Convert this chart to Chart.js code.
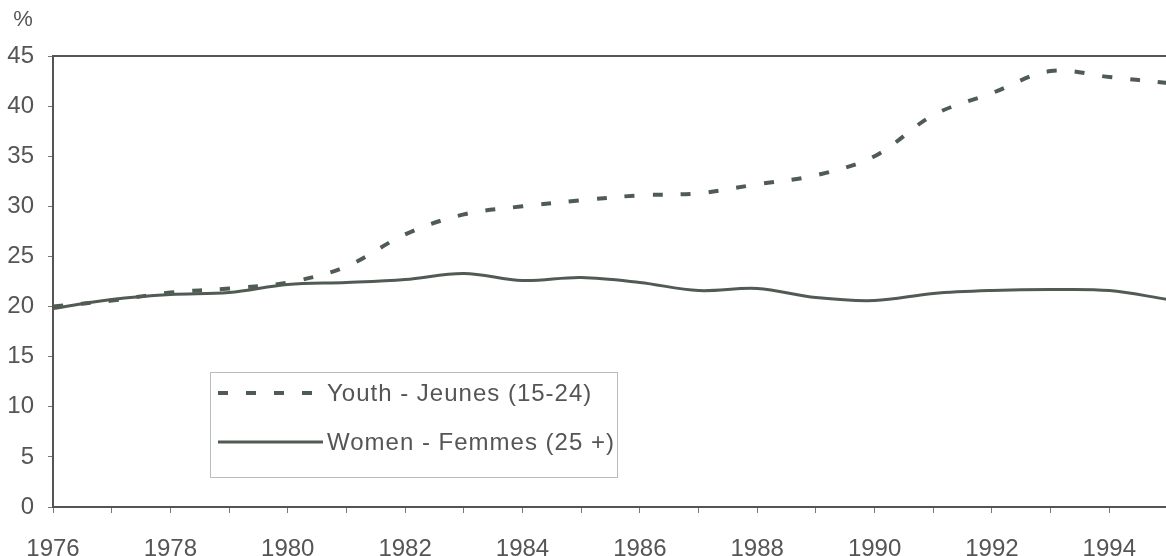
<!DOCTYPE html>
<html>
<head>
<meta charset="utf-8">
<title>Youth / Women</title>
<script src="https://cdn.jsdelivr.net/npm/chart.js@4.4.1/dist/chart.umd.min.js"></script>
<style>
  html, body { margin: 0; padding: 0; background: #fff; overflow: hidden; }
</style>
</head>
<body>
<canvas id="chart" width="1190" height="572"></canvas>
<script>
// Données (%)
const years = ['1976', '1977', '1978', '1979', '1980', '1981', '1982', '1983', '1984', '1985',
               '1986', '1987', '1988', '1989', '1990', '1991', '1992', '1993', '1994', '1995'];
const youth = [20.0, 20.6, 21.4, 21.8, 22.4, 24.0, 27.2, 29.2, 30.0, 30.6,
               31.1, 31.3, 32.2, 33.1, 35.0, 39.1, 41.3, 43.5, 42.9, 42.3];
const women = [19.8, 20.7, 21.2, 21.4, 22.2, 22.4, 22.7, 23.3, 22.6, 22.9,
               22.4, 21.6, 21.8, 20.9, 20.6, 21.3, 21.6, 21.7, 21.6, 20.7];
const seriesLabels = ['Youth - Jeunes (15-24)', 'Women - Femmes (25 +)'];

const lineColor = '#4f5b53';
const textColor = '#555555';
const fontFamily = "'Liberation Sans', Arial, sans-serif";

// Cadre du haut, titre "%" et légende dessinés à la main
const decorPlugin = {
    id: 'decor',
    afterDraw(chart) {
        const ctx = chart.ctx;
        const area = chart.chartArea;
        ctx.save();
        // ligne du haut
        ctx.strokeStyle = textColor;
        ctx.lineWidth = 2;
        ctx.beginPath();
        ctx.moveTo(area.left, area.top);
        ctx.lineTo(area.right, area.top);
        ctx.stroke();

        // unité
        ctx.fillStyle = textColor;
        ctx.font = '22px ' + fontFamily;
        ctx.textAlign = 'center';
        ctx.textBaseline = 'middle';
        ctx.fillText('%', 23, 20);

        // légende
        const box = { x: 210, y: 372, w: 407, h: 105 };
        ctx.fillStyle = '#ffffff';
        ctx.fillRect(box.x, box.y, box.w, box.h);
        ctx.strokeStyle = '#bbbbbb';
        ctx.lineWidth = 1;
        ctx.strokeRect(box.x + 0.5, box.y + 0.5, box.w, box.h);

        const rows = [393, 442];
        chart.data.datasets.forEach((ds, i) => {
            ctx.strokeStyle = ds.borderColor;
            ctx.lineWidth = ds.borderWidth;
            ctx.setLineDash(ds.borderDash || []);
            ctx.beginPath();
            ctx.moveTo(218, rows[i]);
            ctx.lineTo(323, rows[i]);
            ctx.stroke();
            ctx.setLineDash([]);
            ctx.fillStyle = textColor;
            ctx.font = '24px ' + fontFamily;
            ctx.letterSpacing = '1px';
            ctx.textAlign = 'left';
            ctx.textBaseline = 'middle';
            ctx.fillText(ds.label, 327, rows[i] + 1);
        });
        ctx.restore();
    }
};

const ctx = document.getElementById('chart').getContext('2d');
const chart = new Chart(ctx, {
    type: 'line',
    data: {
        labels: years,
        datasets: [
            {
                label: seriesLabels[0],
                data: youth,
                borderColor: lineColor,
                borderWidth: 4,
                borderDash: [10, 18],
                pointRadius: 0,
                tension: 0.35,
                fill: false,
            },
            {
                label: seriesLabels[1],
                data: women,
                borderColor: lineColor,
                borderWidth: 3,
                pointRadius: 0,
                tension: 0.35,
                fill: false,
            },
        ],
    },
    options: {
        responsive: false,
        animation: false,
        layout: {
            padding: { top: 56, right: 0, left: 0, bottom: 0 },
        },
        plugins: {
            legend: { display: false },
            tooltip: { enabled: false },
        },
        scales: {
            x: {
                offset: false,
                afterFit(scale) { scale.height = 572 - 507; },
                grid: {
                    drawOnChartArea: false,
                    drawTicks: true,
                    tickLength: 6,
                    color: '#777777',
                },
                border: { color: textColor, width: 2 },
                ticks: {
                    autoSkip: false,
                    maxRotation: 0,
                    padding: 22,
                    color: textColor,
                    font: { family: fontFamily, size: 24 },
                    callback: function (value) {
                        const label = this.getLabelForValue(value);
                        return Number(label) % 2 === 0 ? label : '';
                    },
                },
            },
            y: {
                min: 0,
                max: 45,
                afterFit(scale) { scale.width = 53; },
                grid: {
                    drawOnChartArea: false,
                    drawTicks: true,
                    tickLength: 5,
                    color: '#777777',
                },
                border: { color: textColor, width: 2 },
                ticks: {
                    stepSize: 5,
                    padding: 14,
                    color: textColor,
                    font: { family: fontFamily, size: 24 },
                },
            },
        },
    },
    plugins: [decorPlugin],
});
</script>
</body>
</html>
